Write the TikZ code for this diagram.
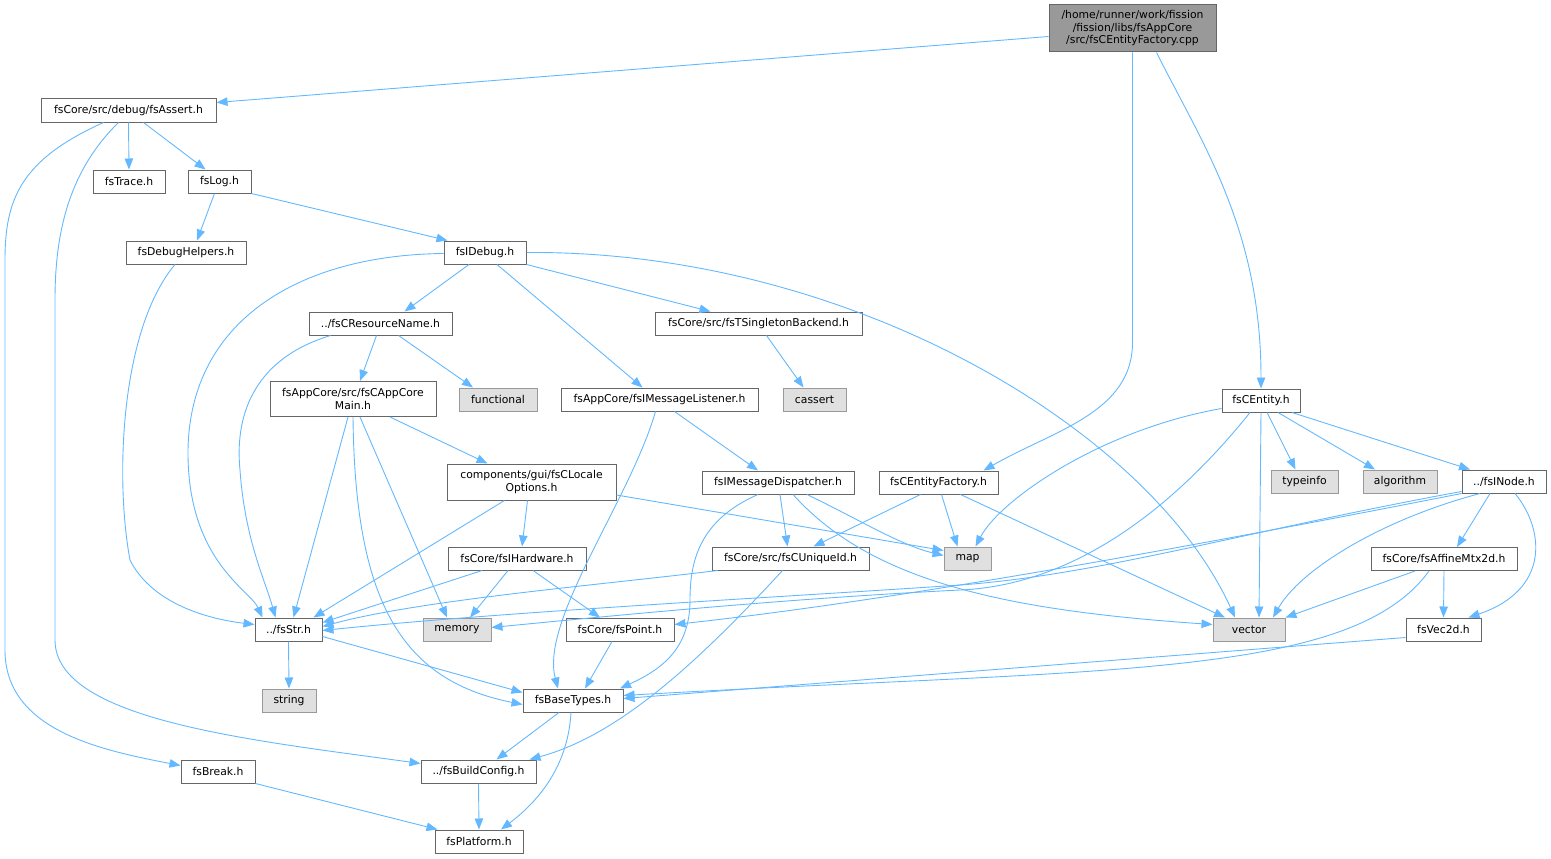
\documentclass[tikz,border=0pt]{standalone}
\usepackage{fontspec}
\setmainfont{DejaVu Sans}
\usetikzlibrary{arrows.meta}

\definecolor{depblue}{HTML}{63B8FF}
\definecolor{boxline}{HTML}{666666}
\definecolor{sysline}{HTML}{999999}
\definecolor{sysfill}{HTML}{E0E0E0}
\newcommand\doxfont{\fontsize{10.8}{12.5}\selectfont}

\tikzset{
          hfile/.style = {rectangle, draw = boxline, fill = white, line width = 1pt, minimum width = #1, minimum height = 23pt, inner sep = 0pt, font = \doxfont, align = center},
          sysh/.style = {hfile = #1, draw = sysline, fill = sysfill},
          rootfile/.style = {hfile = #1, fill = sysline, minimum height = 47pt},
          dep/.style = {draw = depblue, line width = 0.9pt, -{Triangle[length = 11pt, width = 8.5pt]}}
        }

\begin{document}
\begin{tikzpicture}[x=1pt,y=-1pt]
          \useasboundingbox (0,0) rectangle (1551,859);

          % files, rank by rank
          \node[rootfile=167pt] (root) at (1132.5,28.5) {/home/runner/work/fission\\/fission/libs/fsAppCore\\/src/fsCEntityFactory.cpp};
          \node[hfile=175pt] (assert) at (128.5,110.5) {fsCore/src/debug/fsAssert.h};
          \node[hfile=72pt]  (trace) at (129,181.5) {fsTrace.h};
          \node[hfile=63pt]  (log) at (219.5,181.5) {fsLog.h};
          \node[hfile=120pt] (dbghelp) at (186,252.5) {fsDebugHelpers.h};
          \node[hfile=82pt]  (idebug) at (485,252.5) {fsIDebug.h};
          \node[hfile=143pt] (resname) at (380.5,323.5) {../fsCResourceName.h};
          \node[hfile=207pt] (singleton) at (758.5,323.5) {fsCore/src/fsTSingletonBackend.h};
          \node[hfile=166pt, minimum height=35pt] (appmain) at (353,399) {fsAppCore/src/fsCAppCore\\Main.h};
          \node[sysh=78pt]   (functional) at (498,399.5) {functional};
          \node[hfile=197pt] (msglistener) at (659.5,399.5) {fsAppCore/fsIMessageListener.h};
          \node[sysh=63pt]   (cassert) at (814.5,399.5) {cassert};
          \node[hfile=78pt]  (entity) at (1261,400.5) {fsCEntity.h};
          \node[hfile=169pt, minimum height=36pt] (locale) at (531.5,482) {components/gui/fsCLocale\\Options.h};
          \node[hfile=152pt] (msgdisp) at (778,482.5) {fsIMessageDispatcher.h};
          \node[hfile=119pt] (factory) at (938.5,482.5) {fsCEntityFactory.h};
          \node[sysh=67pt]   (typeinfo) at (1304.5,481.5) {typeinfo};
          \node[sysh=74pt]   (algorithm) at (1400,481.5) {algorithm};
          \node[hfile=84pt]  (inode) at (1504,481.5) {../fsINode.h};
          \node[hfile=138pt] (hardware) at (517,558.5) {fsCore/fsIHardware.h};
          \node[hfile=157pt] (uniqueid) at (790.5,558.5) {fsCore/src/fsCUniqueId.h};
          \node[sysh=47pt]   (map) at (967.5,558.5) {map};
          \node[hfile=146pt] (affine) at (1444,559) {fsCore/fsAffineMtx2d.h};
          \node[hfile=67pt]  (str) at (288.5,629.5) {../fsStr.h};
          \node[sysh=68pt]   (memory) at (457,629.5) {memory};
          \node[hfile=108pt] (point) at (620,629.5) {fsCore/fsPoint.h};
          \node[sysh=72pt]   (vector) at (1249,629.5) {vector};
          \node[hfile=75pt]  (vec2d) at (1443.5,629.5) {fsVec2d.h};
          \node[sysh=54pt]   (string) at (289,700.5) {string};
          \node[hfile=100pt] (basetypes) at (573,700.5) {fsBaseTypes.h};
          \node[hfile=74pt]  (break) at (218,771.5) {fsBreak.h};
          \node[hfile=115pt] (buildcfg) at (478.5,771.5) {../fsBuildConfig.h};
          \node[hfile=88pt]  (platform) at (479,841.5) {fsPlatform.h};

          % includes
          \draw[dep] ([yshift=-8pt]root.west) -- ([yshift=8pt]assert.east);
          \draw[dep] (root.south) -- ++(0,290) .. controls +(0,70) and +(70,-40) .. ([xshift=45pt]factory.north);
          \draw[dep] ([xshift=24pt]root.south) .. controls +(45,90) and +(0,-160) .. (entity.north);

          \draw[dep] (assert.south) -- (trace.north);
          \draw[dep] ([xshift=15pt]assert.south) -- ([xshift=-14pt]log.north);
          \draw[dep] ([xshift=-25pt]assert.south) .. controls (20,160) and (5,200) .. (5,260) -- (5,650) .. controls (5,730) and (100,750) .. ([yshift=6pt]break.west);
          \draw[dep] ([xshift=-10pt]assert.south) .. controls (70,170) and (55,230) .. (55,300) -- (55,640) .. controls (55,720) and (250,740) .. ([yshift=8pt]buildcfg.west);

          \draw[dep] ([xshift=-5pt]log.south) -- ([xshift=11pt]dbghelp.north);
          \draw[dep] (log.south east) -- ([xshift=4pt]idebug.north west);

          \draw[dep] ([xshift=-11pt]dbghelp.south) .. controls (120,330) and (115,480) .. (130,560) .. controls (150,600) and (200,618) .. ([yshift=5pt]str.west);

          \draw[dep] ([yshift=-1pt]idebug.west) .. controls (300,255) and (190,320) .. (188,450) .. controls (187,560) and (250,590) .. ([xshift=-26pt]str.north);
          \draw[dep] ([xshift=-16pt]idebug.south) -- ([xshift=24pt]resname.north);
          \draw[dep] (idebug.south east) -- ([xshift=-48pt]singleton.north);
          \draw[dep] ([xshift=12pt]idebug.south) -- ([xshift=-17pt]msglistener.north);
          \draw[dep] (idebug.east) .. controls (850,250) and (1150,430) .. ([xshift=-14pt]vector.north);

          \draw[dep] ([xshift=-4pt]resname.south) -- ([xshift=7pt]appmain.north);
          \draw[dep] ([xshift=18pt]resname.south) -- ([xshift=-25pt]functional.north);
          \draw[dep] ([xshift=-50pt]resname.south) .. controls (250,360) and (235,420) .. (240,470) .. controls (245,540) and (265,580) .. ([xshift=-13pt]str.north);

          \draw[dep] ([xshift=8pt]singleton.south) -- ([xshift=-11pt]cassert.north);

          \draw[dep] ([xshift=-5pt]appmain.south) -- ([xshift=5pt]str.north);
          \draw[dep] ([xshift=7pt]appmain.south) -- ([xshift=-10pt]memory.north);
          \draw[dep] (appmain.south) .. controls (355,600) and (400,680) .. ([yshift=-4pt]basetypes.west);
          \draw[dep] ([xshift=37pt]appmain.south) -- ([xshift=-44pt]locale.north);

          \draw[dep] ([xshift=-4pt]msglistener.south) .. controls (630,500) and (540,620) .. ([xshift=-15pt]basetypes.north);
          \draw[dep] ([xshift=15pt]msglistener.south) -- ([xshift=-20pt]msgdisp.north);

          \draw[dep] ([xshift=-27pt]locale.south) -- ([xshift=25pt]str.north);
          \draw[dep] ([xshift=-4pt]locale.south) -- ([xshift=5pt]hardware.north);
          \draw[dep] ([yshift=-13pt]locale.east) -- ([yshift=8pt]map.west);

          \draw[dep] ([xshift=2pt]msgdisp.south) -- ([xshift=-3pt]uniqueid.north);
          \draw[dep] ([xshift=29pt]msgdisp.south) .. controls (860,520) and (900,545) .. ([yshift=3pt]map.west);
          \draw[dep] ([xshift=15pt]msgdisp.south) .. controls (870,580) and (1000,610) .. ([yshift=5pt]vector.west);
          \draw[dep] ([xshift=-20pt]msgdisp.south) .. controls (700,520) and (690,560) .. (690,600) .. controls (690,650) and (660,670) .. ([xshift=47pt]basetypes.north);

          \draw[dep] ([xshift=-35pt]hardware.south) -- ([yshift=7pt]str.east);
          \draw[dep] ([xshift=-9pt]hardware.south) -- ([xshift=13pt]memory.north);
          \draw[dep] ([xshift=16pt]hardware.south) -- ([xshift=-20pt]point.north);

          \draw[dep] ([xshift=-73pt]uniqueid.south) .. controls (600,585) and (420,600) .. ([yshift=3pt]str.east);
          \draw[dep] ([xshift=-8pt]uniqueid.south) .. controls (700,660) and (620,735) .. ([xshift=51pt]buildcfg.north);

          \draw[dep] ([xshift=-18pt]factory.south) -- ([xshift=23pt]uniqueid.north);
          \draw[dep] ([xshift=3pt]factory.south) -- ([xshift=-10pt]map.north);
          \draw[dep] ([xshift=22pt]factory.south) -- ([xshift=-24pt]vector.north);

          \draw[dep] ([yshift=-8pt]entity.west) .. controls (1100,430) and (1000,500) .. ([xshift=8pt]map.north);
          \draw[dep] (entity.south) -- ([xshift=10pt]vector.north);
          \draw[dep] ([xshift=6pt]entity.south) -- ([xshift=-9pt]typeinfo.north);
          \draw[dep] ([xshift=17pt]entity.south) -- ([xshift=-25pt]algorithm.north);
          \draw[dep] ([xshift=31pt]entity.south) -- ([xshift=-34pt]inode.north);
          \draw[dep] ([xshift=-11pt]entity.south) .. controls (1180,500) and (1080,585) .. (960,590) .. controls (800,598) and (650,612) .. ([yshift=2pt]memory.east);

          \draw[dep] ([xshift=-14pt]inode.south) -- ([xshift=13pt]affine.north);
          \draw[dep] ([xshift=11pt]inode.south) .. controls (1545,530) and (1550,590) .. ([xshift=25pt]vec2d.north);
          \draw[dep] ([xshift=-24pt]inode.south) .. controls (1380,520) and (1300,570) .. ([xshift=24pt]vector.north);
          \draw[dep] ([yshift=2pt]inode.south west) .. controls (1250,530) and (1100,575) .. (960,585) .. controls (800,596) and (500,612) .. ([yshift=-1pt]str.east);
          \draw[dep] (inode.south west) .. controls (1200,545) and (900,600) .. ([yshift=5pt]point.east);

          \draw[dep] ([xshift=-29pt]affine.south) -- (vector.north east);
          \draw[dep] (affine.south) -- (vec2d.north);
          \draw[dep] ([xshift=-15pt]affine.south) .. controls (1350,680) and (1100,668) .. ([yshift=5pt]basetypes.east);
          \draw[dep] ([yshift=-8pt]vec2d.west) -- ([yshift=2pt]basetypes.east);

          \draw[dep] (str.south) -- (string.north);
          \draw[dep] ([yshift=-7pt]str.east) -- ([yshift=8pt]basetypes.west);
          \draw[dep] ([xshift=-8pt]point.south) -- ([xshift=12pt]basetypes.north);

          \draw[dep] ([xshift=-14pt]basetypes.south) -- ([xshift=18pt]buildcfg.north);
          \draw[dep] ([xshift=-2pt]basetypes.south) .. controls (568,765) and (540,800) .. ([xshift=22pt]platform.north);
          \draw[dep] (buildcfg.south) -- (platform.north);
          \draw[dep] (break.south east) -- ([xshift=3pt]platform.north west);
        \end{tikzpicture}
\end{document}
